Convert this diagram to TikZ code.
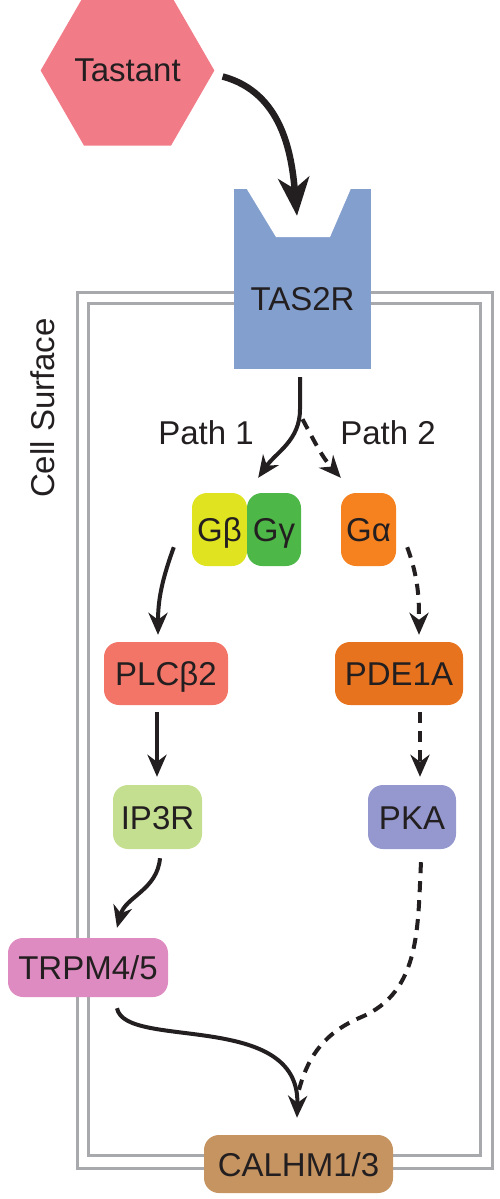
\documentclass[tikz,border=0pt]{standalone}
\usepackage{fontspec}
\setmainfont{Liberation Sans}
\usepackage{tikz}
\usetikzlibrary{arrows.meta,shapes.geometric,positioning}
\definecolor{textc}{HTML}{231F20}
\definecolor{membranec}{HTML}{A7A9AC}
\definecolor{tastantc}{HTML}{F27B88}
\definecolor{tasrc}{HTML}{839FCE}
\definecolor{gbetac}{HTML}{E0E31F}
\definecolor{ggammac}{HTML}{4DB748}
\definecolor{galphac}{HTML}{F5811F}
\definecolor{plcc}{HTML}{F37567}
\definecolor{pdec}{HTML}{E8731F}
\definecolor{ipc}{HTML}{C4DF90}
\definecolor{pkac}{HTML}{9598CE}
\definecolor{trpmc}{HTML}{DE8BC1}
\definecolor{calhmc}{HTML}{C69461}
\tikzset{% styles of the pathway
	protein/.style={rounded corners=15pt,inner sep=0pt,text height=24pt,text depth=0pt},
	sig/.style={line width=4pt,draw=textc,-{Stealth[length=22pt,width=19pt,inset=7pt]}},
	sigdash/.style={sig,dash pattern=on 11pt off 8pt},
	membrane/.style={draw=membranec,line width=3pt}
}

\begin{document}
\begin{tikzpicture}[x=1pt,y=-1pt,text=textc,font=\fontsize{33}{40}\selectfont]
\useasboundingbox (0,0) rectangle (500,1199);
% cell surface
\draw[membrane] (77,292) rectangle (492,1168);
\draw[membrane] (88,303) rectangle (480,1155);
\node[rotate=90] (surface) at (43,408) {Cell Surface};

\node[regular polygon,regular polygon sides=6,minimum size=147pt,inner sep=0pt,fill=tastantc] (tastant) at (127.5,70.5) {Tastant};
\node[fill=tasrc,minimum width=137pt,inner sep=0pt,text height=121pt,text depth=59pt] (tas2r) at (302.5,279) {TAS2R};
\fill[white] (245,186) -- (276,237) -- (330,237) -- (352,186) -- cycle;

\node (path1) at (206,433) {Path 1};
\node (path2) at (388,433) {Path 2};

\node[protein,fill=gbetac,minimum width=55pt,minimum height=73pt] (gb) at (219.5,529.5) {Gβ};
\node[protein,fill=ggammac,minimum width=54pt,minimum height=73pt] (gg) at (274,529.5) {Gγ};
\node[protein,fill=galphac,minimum width=55pt,minimum height=73pt] (ga) at (368.5,529.5) {Gα};
\node[protein,fill=plcc,minimum width=124pt,minimum height=63pt] (plc) at (166,673.5) {PLCβ2};
\node[protein,fill=pdec,minimum width=128pt,minimum height=63pt] (pde) at (399,673.5) {PDE1A};
\node[protein,fill=ipc,minimum width=89pt,minimum height=64pt] (ip3r) at (157.5,817) {IP3R};
\node[protein,fill=pkac,minimum width=88pt,minimum height=64pt] (pka) at (412,817) {PKA};
\node[protein,fill=trpmc,minimum width=160pt,minimum height=59pt] (trpm) at (88,967.5) {TRPM4/5};
\node[protein,fill=calhmc,minimum width=189pt,minimum height=58pt] (calhm) at (298.5,1164) {CALHM1/3};

\draw[line width=6.5pt,draw=textc,-{Stealth[length=38pt,width=31pt,inset=11pt]}] ([shift={(8,6)}]tastant.east) to[out=-15,in=95] ([shift={(-5.5,27)}]tas2r.north);
\draw[sig] ([shift={(-2.5,8)}]tas2r.south) -- ++(0,32) to[out=-90,in=55] ([shift={(11,-15)}]gb.north east);
\draw[sigdash] ([shift={(0,50)}]tas2r.south) to[out=-62,in=132] ([shift={(0,-15)}]ga.north west);
\draw[sig] ([shift={(-18,-19)}]gb.south west) to[out=-110,in=90] ([shift={(-8,-7)}]plc.north);
\draw[sigdash] ([shift={(11,-19)}]ga.south east) to[out=-70,in=90] ([shift={(20,-7)}]pde.north);
\draw[sig] ([shift={(-9,7)}]plc.south) -- ([shift={(-0.5,-8)}]ip3r.north);
\draw[sigdash] ([shift={(21,7)}]pde.south) -- ([shift={(8,-8)}]pka.north);
\draw[sig] ([shift={(2.5,9)}]ip3r.south) to[out=-95,in=75] ([shift={(29,-10)}]trpm.north);
\draw[sig] ([shift={(29,11)}]trpm.south) .. controls +(8,42) and +(3,-108) .. ([shift={(-1.5,-17)}]calhm.north);
\draw[sigdash,-] ([shift={(9,13)}]pka.south) to[out=-93,in=23] ++(-60,155) to[out=203,in=75] ([shift={(0.5,-45)}]calhm.north);
\end{tikzpicture}
\end{document}
